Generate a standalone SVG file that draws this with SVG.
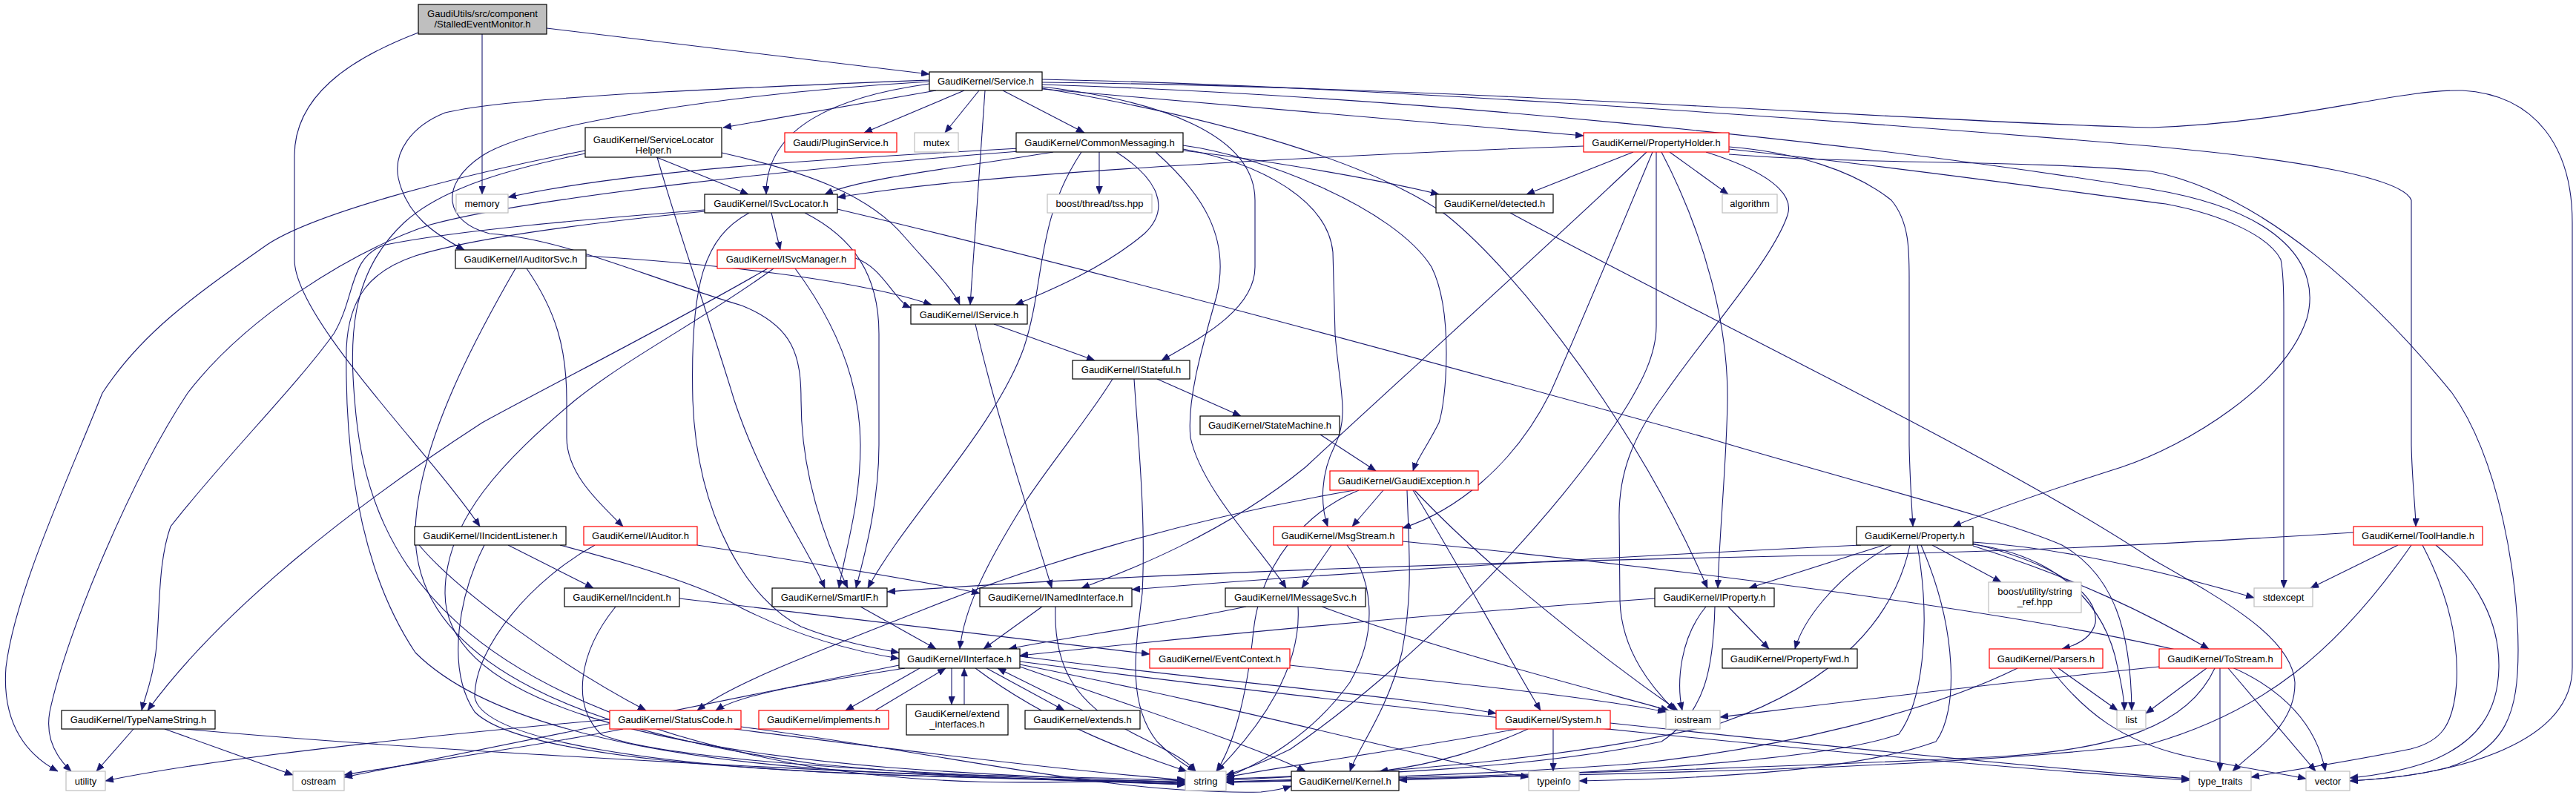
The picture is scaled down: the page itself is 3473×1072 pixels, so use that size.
<svg xmlns="http://www.w3.org/2000/svg" width="3473" height="1072" viewBox="0 0 3473 1072">
<style>
.e{fill:none;stroke:#191970;stroke-width:1.1;marker-end:url(#ah)}
.nb{fill:#fff;stroke:#000;stroke-width:1.2}
.nr{fill:#fff;stroke:#ff0000;stroke-width:1.2}
.ng{fill:#fff;stroke:#bfbfbf;stroke-width:1.2}
.nroot{fill:#bfbfbf;stroke:#000;stroke-width:1.2}
text{font-family:"Liberation Sans",Arial,Helvetica,sans-serif;font-size:13px;text-anchor:middle;fill:#000}
</style>
<defs>
<marker id="ah" markerUnits="userSpaceOnUse" markerWidth="12" markerHeight="9" refX="11" refY="4.5" orient="auto">
<path d="M0,0 L11,4.5 L0,9 z" fill="#191970" stroke="#191970" stroke-width="0.5"/>
</marker>
</defs>
<rect width="3473" height="1072" fill="#fff"/>
<g id="edges">
<path class="e" d="M737,38 L1253,100"/>
<path class="e" d="M650,46 L650,262"/>
<path class="e" d="M564,44 C470,80 397,130 397,210 L397,350 C397,430 580,610 647,710"/>
<path class="e" d="M1262,122 L975,172"/>
<path class="e" d="M1300,122 L1165,179"/>
<path class="e" d="M1320,122 L1274,179"/>
<path class="e" d="M1352,122 L1462,179"/>
<path class="e" d="M1328,122 L1308,411"/>
<path class="e" d="M1405,117 C1560,135 1692,180 1692,270 L1692,360 C1692,420 1610,460 1566,486"/>
<path class="e" d="M1253,113 C1130,130 1032,170 1033,262"/>
<path class="e" d="M1253,108 C1000,118 690,130 600,152 C555,170 530,205 537,240 C548,290 585,315 626,337"/>
<path class="e" d="M1253,110 C1000,125 720,165 650,210 C590,250 600,300 660,315 C760,322 860,370 1000,412 C1070,440 1080,480 1080,540 C1080,650 1120,745 1143,793"/>
<path class="e" d="M1405,120 L2135,183"/>
<path class="e" d="M1405,107 C1800,115 2400,155 2900,197 C3100,215 3240,240 3251,270 L3251,600 C3252,650 3257,690 3257,710"/>
<path class="e" d="M1405,111 C2000,118 2600,165 2900,172 C3100,165 3230,120 3320,122 C3420,128 3468,200 3468,300 L3468,900 C3468,1000 3320,1045 3168,1053"/>
<path class="e" d="M1405,114 C1900,130 2500,190 2900,255 C3080,285 3130,360 3110,430 C3080,520 2950,600 2860,630 C2750,665 2680,690 2633,710"/>
<path class="e" d="M1405,119 C1650,160 1850,220 1950,290 C2050,370 2210,580 2302,793"/>
<path class="e" d="M885,212 L1009,262"/>
<path class="e" d="M973,206 C1080,230 1170,260 1220,320 C1255,360 1285,390 1294,411"/>
<path class="e" d="M886,212 C920,330 960,440 990,540 C1030,660 1090,740 1112,793"/>
<path class="e" d="M789,207 C700,225 600,250 545,300 C470,370 470,460 480,560 C500,760 620,950 1100,1035 C1300,1065 1450,1053 1598,1051"/>
<path class="e" d="M789,203 C600,240 420,290 360,330 C260,400 190,450 138,530 C90,650 20,800 8,900 C2,980 40,1020 78,1040"/>
<path class="e" d="M1374,200 C1100,215 850,230 685,266"/>
<path class="e" d="M1420,205 C1300,225 1160,240 1112,262"/>
<path class="e" d="M1482,205 L1482,262"/>
<path class="e" d="M1505,205 C1560,240 1580,280 1543,315 C1490,360 1420,390 1369,411"/>
<path class="e" d="M1458,205 C1395,300 1410,380 1380,470 C1340,580 1220,700 1170,793"/>
<path class="e" d="M1558,205 C1620,260 1660,320 1640,400 C1620,470 1600,540 1605,590 C1620,660 1700,740 1734,793"/>
<path class="e" d="M1595,201 C1700,220 1790,270 1797,340 L1800,450 C1805,520 1820,560 1800,600 C1780,640 1780,680 1790,710"/>
<path class="e" d="M1595,196 C1700,210 1880,280 1930,360 C1960,420 1950,540 1940,570 C1925,600 1910,620 1905,635"/>
<path class="e" d="M1595,203 C1700,215 1850,240 1940,262"/>
<path class="e" d="M1374,204 C1100,225 720,265 580,303 C470,340 330,430 253,530 C180,640 90,850 67,960 C60,1000 80,1025 96,1040"/>
<path class="e" d="M2135,197 C1900,205 1500,225 1300,245 C1220,252 1170,260 1129,266"/>
<path class="e" d="M2202,205 L2058,262"/>
<path class="e" d="M2251,205 L2330,262"/>
<path class="e" d="M2220,205 C2100,320 1900,500 1760,630 C1650,720 1520,770 1458,793"/>
<path class="e" d="M2228,205 C2180,320 2130,440 2090,530 C2040,630 1960,690 1891,712"/>
<path class="e" d="M2233,205 L2233,440 C2233,480 2210,520 2195,545 C2100,700 1900,900 1740,1010 C1700,1030 1670,1040 1653,1045"/>
<path class="e" d="M2240,205 C2300,320 2330,440 2329,540 C2328,620 2318,720 2316,793"/>
<path class="e" d="M2300,205 C2380,230 2420,260 2410,290 C2390,350 2300,450 2245,530 C2200,590 2182,640 2183,700 L2184,810 C2186,880 2230,930 2258,958"/>
<path class="e" d="M2331,198 C2420,205 2500,230 2550,270 C2575,300 2574,340 2574,380 L2574,600 C2575,650 2578,690 2579,710"/>
<path class="e" d="M2331,201 C2600,230 2800,260 2920,275 C3000,290 3060,320 3075,350 C3079,370 3079,400 3079,420 L3079,793"/>
<path class="e" d="M2331,208 C2500,222 2720,215 2900,231 C3050,260 3200,400 3306,530 C3370,620 3395,780 3395,876 C3395,960 3380,1010 3300,1035 C3250,1048 3200,1051 3168,1053"/>
<path class="e" d="M1040,287 L1052,337"/>
<path class="e" d="M1010,287 C950,320 930,380 934,540 C940,700 1010,810 1080,845 C1130,865 1180,874 1212,880"/>
<path class="e" d="M1085,287 C1150,320 1185,370 1185,450 L1185,600 C1185,680 1165,750 1154,793"/>
<path class="e" d="M950,283 C800,295 620,310 520,330 C470,345 480,400 450,450 C400,520 300,620 230,710 C212,760 216,830 210,880 C205,920 195,940 191,958"/>
<path class="e" d="M950,285 C800,300 640,320 560,345 C500,365 470,400 467,470 C465,600 480,760 560,880 C680,1000 1000,1040 1300,1045 C1450,1048 1550,1050 1598,1053"/>
<path class="e" d="M1129,282 C1500,370 1900,480 2300,590 C2500,650 2700,700 2780,735 C2850,775 2873,850 2874,958"/>
<path class="e" d="M790,345 C950,355 1150,375 1256,411"/>
<path class="e" d="M710,362 C750,420 764,470 764,540 L764,590 C764,640 810,680 840,710"/>
<path class="e" d="M695,362 C650,440 560,600 560,720 C560,900 800,990 1100,1030 C1350,1055 1500,1052 1598,1054"/>
<path class="e" d="M1153,348 C1190,360 1205,405 1228,415"/>
<path class="e" d="M1035,362 C900,440 760,510 650,570 C480,680 300,820 199,958"/>
<path class="e" d="M1043,362 C950,430 850,480 775,540 C680,620 600,700 600,800 C600,950 900,1010 1200,1035 C1400,1050 1520,1052 1598,1055"/>
<path class="e" d="M1072,362 C1130,440 1160,520 1160,600 C1160,680 1140,740 1131,793"/>
<path class="e" d="M1315,437 C1340,550 1390,700 1418,793"/>
<path class="e" d="M1340,437 L1476,486"/>
<path class="e" d="M1560,511 L1673,561"/>
<path class="e" d="M1500,511 C1470,560 1420,620 1380,680 C1330,760 1300,820 1294,875"/>
<path class="e" d="M1529,511 C1535,600 1545,700 1540,800 C1530,880 1520,950 1560,1000 C1590,1030 1605,1035 1612,1040"/>
<path class="e" d="M1780,586 L1855,635"/>
<path class="e" d="M1865,661 L1823,710"/>
<path class="e" d="M1832,661 C1760,690 1700,760 1690,850 C1680,950 1660,1010 1640,1040"/>
<path class="e" d="M1826,661 C1600,700 1400,760 1250,820 C1100,880 990,920 940,958"/>
<path class="e" d="M1905,661 C1960,750 2030,880 2077,958"/>
<path class="e" d="M1897,661 C1900,750 1905,800 1890,880 C1870,960 1830,1010 1820,1040"/>
<path class="e" d="M1907,661 C2000,760 2150,880 2262,958"/>
<path class="e" d="M685,735 L800,793"/>
<path class="e" d="M755,735 C850,760 950,790 1000,820 C1060,850 1130,875 1212,888"/>
<path class="e" d="M653,735 C620,800 600,900 640,960 C700,1020 1000,1040 1300,1048 C1450,1052 1550,1054 1598,1056"/>
<path class="e" d="M565,735 C620,800 760,900 871,958"/>
<path class="e" d="M940,735 C1100,760 1250,785 1321,800"/>
<path class="e" d="M802,735 C720,780 640,870 640,940 C650,1000 900,1035 1200,1045 C1400,1052 1520,1054 1598,1057"/>
<path class="e" d="M1795,735 L1755,793"/>
<path class="e" d="M1816,735 C1850,780 1860,850 1820,920 C1770,990 1700,1030 1653,1048"/>
<path class="e" d="M1891,730 C2200,760 2700,820 2950,880 C3050,905 3120,960 3135,1040"/>
<path class="e" d="M2540,735 L2358,793"/>
<path class="e" d="M2550,735 C2470,780 2430,840 2420,875"/>
<path class="e" d="M2605,735 L2698,785"/>
<path class="e" d="M2660,733 C2770,760 2830,800 2825,840 C2820,860 2800,870 2780,875"/>
<path class="e" d="M2660,736 C2800,780 2900,830 2978,875"/>
<path class="e" d="M2660,734 C2780,750 2840,820 2855,900 C2862,930 2864,945 2864,958"/>
<path class="e" d="M2660,731 C2800,740 2950,780 3039,806"/>
<path class="e" d="M2509,735 C2300,745 1900,765 1526,795"/>
<path class="e" d="M2575,735 C2555,830 2480,920 2320,975 C2100,1030 1800,1045 1653,1052"/>
<path class="e" d="M2585,735 C2605,850 2590,950 2560,990 C2450,1030 2100,1045 1886,1052"/>
<path class="e" d="M2590,735 C2640,850 2640,960 2610,1000 C2500,1040 2300,1050 2129,1053"/>
<path class="e" d="M3233,735 L3115,793"/>
<path class="e" d="M3251,735 C3150,880 3050,960 2900,1003 C2600,1040 2100,1045 1653,1055"/>
<path class="e" d="M3266,735 C3300,800 3315,860 3312,920 C3308,980 3290,1000 3250,1010 C3150,1030 3080,1040 3035,1048"/>
<path class="e" d="M3284,735 C3340,780 3370,840 3369,900 C3368,960 3340,1000 3280,1025 C3240,1040 3200,1046 3168,1049"/>
<path class="e" d="M3173,718 C2900,735 2700,745 2400,750 C2000,758 1500,775 1196,798"/>
<path class="e" d="M916,807 C1200,840 1450,870 1550,882"/>
<path class="e" d="M830,818 C780,880 770,950 810,990 C900,1030 1300,1045 1598,1058"/>
<path class="e" d="M1160,818 L1262,875"/>
<path class="e" d="M1405,818 L1326,875"/>
<path class="e" d="M1423,818 C1420,900 1450,950 1530,990 C1580,1015 1600,1025 1612,1040"/>
<path class="e" d="M1680,818 C1550,845 1420,862 1360,875"/>
<path class="e" d="M1750,818 C1755,900 1700,980 1640,1040"/>
<path class="e" d="M1782,818 C1950,880 2150,930 2250,958"/>
<path class="e" d="M2231,807 C1900,830 1600,860 1375,884"/>
<path class="e" d="M2300,818 C2265,860 2260,920 2268,958"/>
<path class="e" d="M2312,818 C2310,900 2300,960 2240,1000 C2050,1040 1800,1045 1653,1050"/>
<path class="e" d="M2330,818 L2385,875"/>
<path class="e" d="M1220,901 C1100,920 1000,935 965,958"/>
<path class="e" d="M1375,885 C1650,920 1900,940 2017,962"/>
<path class="e" d="M1212,897 C1000,940 700,1000 464,1048"/>
<path class="e" d="M1375,892 C1900,960 2600,1030 2952,1052"/>
<path class="e" d="M1375,896 C1700,960 1950,1030 2061,1048"/>
<path class="e" d="M1315,901 C1420,980 1540,1020 1600,1040"/>
<path class="e" d="M1375,899 C1550,960 1700,1010 1760,1040"/>
<path class="e" d="M1240,901 L1140,958"/>
<path class="e" d="M1283,901 L1283,950"/>
<path class="e" d="M1330,901 L1435,958"/>
<path class="e" d="M1180,958 L1275,901"/>
<path class="e" d="M1300,950 L1300,901"/>
<path class="e" d="M1460,958 L1345,901"/>
<path class="e" d="M2060,983 C2000,1010 1940,1030 1860,1040"/>
<path class="e" d="M2094,983 L2094,1040"/>
<path class="e" d="M2045,983 C1900,1010 1750,1030 1653,1048"/>
<path class="e" d="M2171,975 C2500,1010 2800,1040 2952,1050"/>
<path class="e" d="M822,970 C600,990 300,1020 142,1053"/>
<path class="e" d="M840,983 C700,1010 550,1030 464,1045"/>
<path class="e" d="M990,983 C1200,1010 1450,1040 1598,1052"/>
<path class="e" d="M999,980 C1300,1020 1500,1072 1700,1068 C1720,1066 1735,1062 1741,1060"/>
<path class="e" d="M180,983 L130,1040"/>
<path class="e" d="M222,983 L395,1045"/>
<path class="e" d="M249,983 C600,1015 1200,1045 1598,1058"/>
<path class="e" d="M2036,287 C2300,430 2700,620 2900,753 C3000,810 3090,860 3094,920 C3095,980 3040,1010 3010,1040"/>
<path class="e" d="M2720,901 C2600,960 2400,1010 2200,1030 C2000,1045 1800,1050 1653,1054"/>
<path class="e" d="M2764,901 C2810,960 2860,1000 2950,1020 C3020,1035 3070,1042 3109,1050"/>
<path class="e" d="M2775,901 L2855,958"/>
<path class="e" d="M2911,899 C2700,920 2500,945 2319,967"/>
<path class="e" d="M2975,901 L2893,962"/>
<path class="e" d="M2986,901 C2950,980 2850,1010 2700,1020 C2300,1040 1900,1048 1653,1055"/>
<path class="e" d="M2993,901 L2993,1040"/>
<path class="e" d="M3004,901 L3122,1040"/>
<path class="e" d="M1739,897 C1950,920 2150,940 2246,960"/>
</g>
<g id="n-root"><rect class="nroot" x="564" y="6" width="173" height="40"/><text x="650.5" y="23">GaudiUtils/src/component</text><text x="650.5" y="37">/StalledEventMonitor.h</text></g>
<g id="n-service"><rect class="nb" x="1253" y="97" width="152" height="25"/><text x="1329" y="114">GaudiKernel/Service.h</text></g>
<g id="n-slh"><rect class="nb" x="789" y="172" width="184" height="40"/><text x="881" y="193">GaudiKernel/ServiceLocator</text><text x="881" y="207">Helper.h</text></g>
<g id="n-plugin"><rect class="nr" x="1058" y="179" width="151" height="26"/><text x="1133.5" y="196.5">Gaudi/PluginService.h</text></g>
<g id="n-mutex"><rect class="ng" x="1233" y="179" width="59" height="26"/><text x="1262.5" y="196.5">mutex</text></g>
<g id="n-commsg"><rect class="nb" x="1370" y="179" width="225" height="26"/><text x="1482.5" y="196.5">GaudiKernel/CommonMessaging.h</text></g>
<g id="n-propholder"><rect class="nr" x="2135" y="179" width="196" height="26"/><text x="2233" y="196.5">GaudiKernel/PropertyHolder.h</text></g>
<g id="n-toolhandle"><rect class="nr" x="3173" y="710" width="174" height="25"/><text x="3260" y="727">GaudiKernel/ToolHandle.h</text></g>
<g id="n-memory"><rect class="ng" x="615" y="262" width="70" height="25"/><text x="650" y="279">memory</text></g>
<g id="n-isvclocator"><rect class="nb" x="950" y="262" width="179" height="25"/><text x="1039.5" y="279">GaudiKernel/ISvcLocator.h</text></g>
<g id="n-tss"><rect class="ng" x="1412" y="262" width="141" height="25"/><text x="1482.5" y="279">boost/thread/tss.hpp</text></g>
<g id="n-detected"><rect class="nb" x="1936" y="262" width="158" height="25"/><text x="2015" y="279">GaudiKernel/detected.h</text></g>
<g id="n-algorithm"><rect class="ng" x="2322" y="262" width="74" height="25"/><text x="2359" y="279">algorithm</text></g>
<g id="n-iauditorsvc"><rect class="nb" x="614" y="337" width="176" height="25"/><text x="702" y="354">GaudiKernel/IAuditorSvc.h</text></g>
<g id="n-isvcmanager"><rect class="nr" x="967" y="337" width="186" height="25"/><text x="1060" y="354">GaudiKernel/ISvcManager.h</text></g>
<g id="n-iservice"><rect class="nb" x="1228" y="411" width="157" height="26"/><text x="1306.5" y="428.5">GaudiKernel/IService.h</text></g>
<g id="n-istateful"><rect class="nb" x="1446" y="486" width="158" height="25"/><text x="1525" y="503">GaudiKernel/IStateful.h</text></g>
<g id="n-statemachine"><rect class="nb" x="1618" y="561" width="188" height="25"/><text x="1712" y="578">GaudiKernel/StateMachine.h</text></g>
<g id="n-gaudiexception"><rect class="nr" x="1793" y="635" width="200" height="26"/><text x="1893" y="652.5">GaudiKernel/GaudiException.h</text></g>
<g id="n-iincidentlistener"><rect class="nb" x="559" y="710" width="204" height="25"/><text x="661" y="727">GaudiKernel/IIncidentListener.h</text></g>
<g id="n-iauditor"><rect class="nr" x="787" y="710" width="153" height="25"/><text x="863.5" y="727">GaudiKernel/IAuditor.h</text></g>
<g id="n-msgstream"><rect class="nr" x="1717" y="710" width="174" height="25"/><text x="1804" y="727">GaudiKernel/MsgStream.h</text></g>
<g id="n-property"><rect class="nb" x="2503" y="710" width="157" height="25"/><text x="2581.5" y="727">GaudiKernel/Property.h</text></g>
<g id="n-incident"><rect class="nb" x="761" y="793" width="155" height="25"/><text x="838.5" y="810">GaudiKernel/Incident.h</text></g>
<g id="n-smartif"><rect class="nb" x="1041" y="793" width="155" height="25"/><text x="1118.5" y="810">GaudiKernel/SmartIF.h</text></g>
<g id="n-inamedinterface"><rect class="nb" x="1321" y="793" width="205" height="25"/><text x="1423.5" y="810">GaudiKernel/INamedInterface.h</text></g>
<g id="n-imessagesvc"><rect class="nb" x="1652" y="793" width="189" height="25"/><text x="1746.5" y="810">GaudiKernel/IMessageSvc.h</text></g>
<g id="n-iproperty"><rect class="nb" x="2231" y="793" width="161" height="25"/><text x="2311.5" y="810">GaudiKernel/IProperty.h</text></g>
<g id="n-stringref"><rect class="ng" x="2681" y="785" width="125" height="41"/><text x="2743.5" y="801.5">boost/utility/string</text><text x="2743.5" y="816">_ref.hpp</text></g>
<g id="n-stdexcept"><rect class="ng" x="3039" y="793" width="79" height="25"/><text x="3078.5" y="810">stdexcept</text></g>
<g id="n-iinterface"><rect class="nb" x="1212" y="875" width="163" height="26"/><text x="1293.5" y="892.5">GaudiKernel/IInterface.h</text></g>
<g id="n-eventcontext"><rect class="nr" x="1550" y="875" width="189" height="26"/><text x="1644.5" y="892.5">GaudiKernel/EventContext.h</text></g>
<g id="n-propertyfwd"><rect class="nb" x="2322" y="875" width="182" height="26"/><text x="2413" y="892.5">GaudiKernel/PropertyFwd.h</text></g>
<g id="n-parsers"><rect class="nr" x="2682" y="875" width="153" height="26"/><text x="2758.5" y="892.5">GaudiKernel/Parsers.h</text></g>
<g id="n-tostream"><rect class="nr" x="2911" y="875" width="165" height="26"/><text x="2993.5" y="892.5">GaudiKernel/ToStream.h</text></g>
<g id="n-typenamestring"><rect class="nb" x="83" y="958" width="207" height="25"/><text x="186.5" y="975">GaudiKernel/TypeNameString.h</text></g>
<g id="n-statuscode"><rect class="nr" x="822" y="958" width="177" height="25"/><text x="910.5" y="975">GaudiKernel/StatusCode.h</text></g>
<g id="n-implements"><rect class="nr" x="1023" y="958" width="175" height="25"/><text x="1110.5" y="975">GaudiKernel/implements.h</text></g>
<g id="n-extendinterfaces"><rect class="nb" x="1222" y="950" width="137" height="41"/><text x="1290.5" y="966.5">GaudiKernel/extend</text><text x="1290.5" y="981">_interfaces.h</text></g>
<g id="n-extends"><rect class="nb" x="1382" y="958" width="155" height="25"/><text x="1459.5" y="975">GaudiKernel/extends.h</text></g>
<g id="n-system"><rect class="nr" x="2017" y="958" width="154" height="25"/><text x="2094" y="975">GaudiKernel/System.h</text></g>
<g id="n-iostream"><rect class="ng" x="2246" y="958" width="73" height="25"/><text x="2282.5" y="975">iostream</text></g>
<g id="n-list"><rect class="ng" x="2854" y="958" width="39" height="25"/><text x="2873.5" y="975">list</text></g>
<g id="n-utility"><rect class="ng" x="89" y="1040" width="53" height="26"/><text x="115.5" y="1057.5">utility</text></g>
<g id="n-ostream"><rect class="ng" x="395" y="1040" width="69" height="26"/><text x="429.5" y="1057.5">ostream</text></g>
<g id="n-string"><rect class="ng" x="1598" y="1040" width="55" height="26"/><text x="1625.5" y="1057.5">string</text></g>
<g id="n-kernel"><rect class="nb" x="1741" y="1040" width="145" height="26"/><text x="1813.5" y="1057.5">GaudiKernel/Kernel.h</text></g>
<g id="n-typeinfo"><rect class="ng" x="2061" y="1040" width="68" height="26"/><text x="2095" y="1057.5">typeinfo</text></g>
<g id="n-typetraits"><rect class="ng" x="2952" y="1040" width="83" height="26"/><text x="2993.5" y="1057.5">type_traits</text></g>
<g id="n-vector"><rect class="ng" x="3109" y="1040" width="59" height="26"/><text x="3138.5" y="1057.5">vector</text></g>
</svg>
